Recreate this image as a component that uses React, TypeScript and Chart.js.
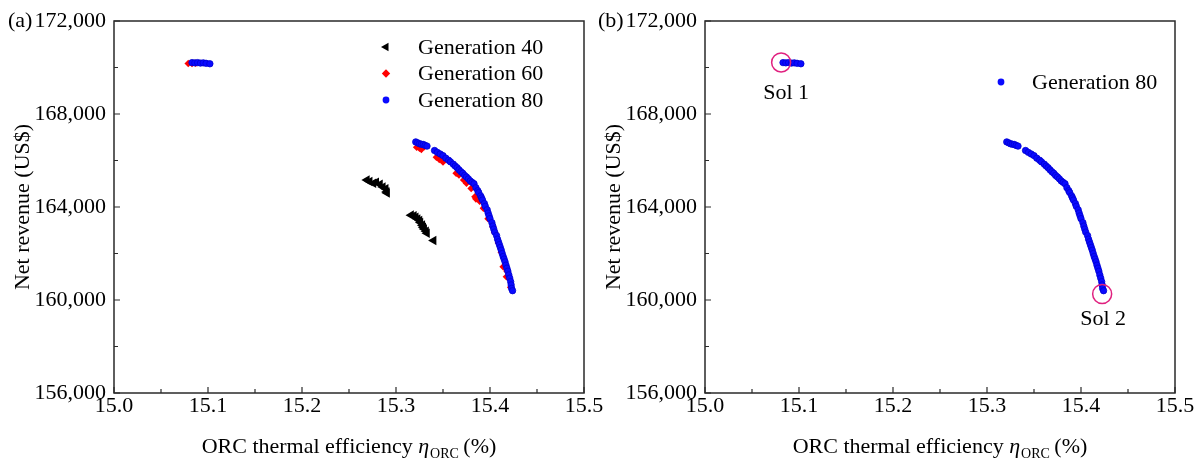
import React, { useEffect, useRef } from 'react';
import { Chart, registerables } from 'chart.js';

Chart.register(...registerables);

const FONT = "'Liberation Serif', 'Times New Roman', serif";

// ---- data ----
const gen40Eff = [15.269, 15.272, 15.276, 15.279, 15.283, 15.286, 15.289, 15.290, 15.2905,
  15.316, 15.319, 15.321, 15.323, 15.325, 15.326, 15.328, 15.329, 15.330, 15.332, 15.333, 15.340];
const gen40Rev = [165160, 165100, 165020, 165060, 164980, 164860, 164780, 164650, 164600,
  163650, 163620, 163560, 163480, 163420, 163330, 163220, 163130, 163050, 162960, 162870, 162560];

const gen60Eff = [15.079, 15.083, 15.087, 15.322, 15.325, 15.327, 15.330, 15.343, 15.346, 15.350,
  15.364, 15.367, 15.372, 15.375, 15.380, 15.384, 15.385, 15.389, 15.393, 15.398, 15.403, 15.405,
  15.409, 15.412, 15.414, 15.4175, 15.418, 15.422];
const gen60Rev = [170170, 170170, 170180, 166570, 166530, 166480, 166590, 166140, 166050, 165940,
  165450, 165380, 165160, 165020, 164800, 164440, 164350, 164250, 163950, 163500, 163150, 162900,
  162450, 162050, 161430, 161000, 161250, 160550];

const gen80Eff = [15.083, 15.086, 15.089, 15.092, 15.095, 15.098, 15.102,
  15.321, 15.323, 15.325, 15.327, 15.329, 15.331, 15.333, 15.341, 15.344, 15.347, 15.350, 15.353,
  15.356, 15.358, 15.361, 15.363, 15.365, 15.367, 15.369, 15.371, 15.373, 15.375, 15.377, 15.379,
  15.381, 15.383, 15.385, 15.387, 15.388, 15.390, 15.391, 15.392, 15.394, 15.395, 15.397, 15.398,
  15.399, 15.400, 15.402, 15.403, 15.404, 15.405, 15.407, 15.408, 15.409, 15.410, 15.411, 15.412,
  15.413, 15.414, 15.415, 15.416, 15.417, 15.418, 15.419, 15.420, 15.421, 15.422, 15.4225, 15.423, 15.424];
const gen80Rev = [170210, 170200, 170210, 170190, 170200, 170180, 170160,
  166800, 166760, 166720, 166700, 166690, 166650, 166620, 166430, 166350, 166280, 166210, 166100,
  166010, 165940, 165840, 165760, 165690, 165600, 165520, 165450, 165360, 165290, 165210, 165120,
  165060, 165000, 164830, 164700, 164620, 164480, 164390, 164300, 164150, 164030, 163880, 163740,
  163620, 163500, 163330, 163180, 163050, 162920, 162770, 162620, 162500, 162380, 162260, 162140,
  162000, 161870, 161760, 161640, 161500, 161370, 161240, 161080, 160940, 160790, 160650, 160500, 160400];

const solNames = ['Sol 1', 'Sol 2'];
const solEff = [15.081, 15.4225];
const solRev = [170220, 160260];

const xTicks = [15.0, 15.1, 15.2, 15.3, 15.4, 15.5];
const yTicks = [156000, 160000, 164000, 168000, 172000];
const xTitle = ['ORC thermal efficiency ', 'η', 'ORC', ' (%)'];
const yTitle = 'Net revenue (US$)';

const BLUE = '#0a0aff';
const RED = '#ff0000';
const BLACK = '#000000';
const SOL = '#e0207f';

const pts = (xs: number[], ys: number[]) => xs.map((x, i) => ({ x, y: ys[i] }));

function drawMarker(ctx: CanvasRenderingContext2D, kind: string, color: string, x: number, y: number) {
  ctx.save();
  ctx.fillStyle = color;
  ctx.beginPath();
  if (kind === 'triangle') {
    const r = 5;
    ctx.moveTo(x - r, y);
    ctx.lineTo(x + r * 0.5, y - r * 0.866);
    ctx.lineTo(x + r * 0.5, y + r * 0.866);
    ctx.closePath();
  } else if (kind === 'diamond') {
    const r = 4.2;
    ctx.moveTo(x, y - r);
    ctx.lineTo(x + r, y);
    ctx.lineTo(x, y + r);
    ctx.lineTo(x - r, y);
    ctx.closePath();
  } else {
    ctx.arc(x, y, 3.4, 0, Math.PI * 2);
  }
  ctx.fill();
  ctx.restore();
}

const framePlugin = {
  id: 'frame',
  afterDraw(chart: any) {
    const { ctx, chartArea, scales } = chart;
    const { left, right, top, bottom } = chartArea;
    const xs = scales.x;
    const ys = scales.y;
    ctx.save();
    ctx.strokeStyle = '#2a2a2a';
    ctx.lineWidth = 1.5;
    ctx.strokeRect(left, top, right - left, bottom - top);
    ctx.lineWidth = 1.2;
    ctx.beginPath();
    for (let i = 0; i < xTicks.length; i++) {
      const px = xs.getPixelForValue(xTicks[i]);
      ctx.moveTo(px, bottom);
      ctx.lineTo(px, bottom - 6);
      if (i < xTicks.length - 1) {
        const mx = xs.getPixelForValue((xTicks[i] + xTicks[i + 1]) / 2);
        ctx.moveTo(mx, bottom);
        ctx.lineTo(mx, bottom - 4);
      }
    }
    for (let i = 0; i < yTicks.length; i++) {
      const py = ys.getPixelForValue(yTicks[i]);
      ctx.moveTo(left, py);
      ctx.lineTo(left + 6, py);
      if (i < yTicks.length - 1) {
        const my = ys.getPixelForValue((yTicks[i] + yTicks[i + 1]) / 2);
        ctx.moveTo(left, my);
        ctx.lineTo(left + 4, my);
      }
    }
    ctx.stroke();
    ctx.restore();
  },
};

const textPlugin = {
  id: 'panelText',
  afterDraw(chart: any, _args: any, opts: any) {
    const { ctx, chartArea, scales } = chart;
    const { left, right, top, bottom } = chartArea;
    ctx.save();
    ctx.fillStyle = '#000';
    ctx.font = `22px ${FONT}`;
    // panel label
    ctx.textAlign = 'left';
    ctx.textBaseline = 'middle';
    ctx.fillText(opts.label, opts.labelX, top);

    // y title
    ctx.save();
    ctx.translate(left - 85, (top + bottom) / 2);
    ctx.rotate(-Math.PI / 2);
    ctx.textAlign = 'center';
    ctx.textBaseline = 'alphabetic';
    ctx.fillText(yTitle, 0, 0);
    ctx.restore();

    // x title with subscript
    const fMain = `22px ${FONT}`;
    const fIt = `italic 22px ${FONT}`;
    const fSub = `14px ${FONT}`;
    ctx.textAlign = 'left';
    ctx.textBaseline = 'alphabetic';
    ctx.font = fMain; const w1 = ctx.measureText(xTitle[0]).width;
    ctx.font = fIt; const w2 = ctx.measureText(xTitle[1]).width;
    ctx.font = fSub; const w3 = ctx.measureText(xTitle[2]).width;
    ctx.font = fMain; const w4 = ctx.measureText(xTitle[3]).width;
    const total = w1 + w2 + w3 + w4;
    let cx = (left + right) / 2 - total / 2;
    const by = 453;
    ctx.font = fMain; ctx.fillText(xTitle[0], cx, by); cx += w1;
    ctx.font = fIt; ctx.fillText(xTitle[1], cx, by); cx += w2 + 1;
    ctx.font = fSub; ctx.fillText(xTitle[2], cx, by + 5); cx += w3 - 1;
    ctx.font = fMain; ctx.fillText(xTitle[3], cx, by);

    // legend
    ctx.font = `22px ${FONT}`;
    ctx.textBaseline = 'middle';
    opts.legend.forEach((it: any, i: number) => {
      const lx = left + opts.legendX;
      const ly = top + opts.legendY + i * 26.5;
      drawMarker(ctx, it.kind, it.color, lx, ly);
      ctx.fillStyle = '#000';
      ctx.fillText(it.text, lx + opts.textGap, ly + 1);
    });

    // solution annotations
    if (opts.sols) {
      const xs = scales.x;
      const ys = scales.y;
      for (let i = 0; i < solNames.length; i++) {
        const px = xs.getPixelForValue(solEff[i]);
        const py = ys.getPixelForValue(solRev[i]);
        ctx.strokeStyle = SOL;
        ctx.lineWidth = 1.5;
        ctx.beginPath();
        ctx.arc(px, py, 9.5, 0, Math.PI * 2);
        ctx.stroke();
        ctx.fillStyle = '#000';
        ctx.textAlign = 'center';
        ctx.fillText(solNames[i], px + (i === 0 ? 5 : 1), py + (i === 0 ? 31 : 25));
      }
    }
    ctx.restore();
  },
};

function makeOptions(yWidth: number, rightPad: number, panel: any) {
  return {
    responsive: false,
    animation: false as const,
    devicePixelRatio: 1,
    events: [],
    layout: { padding: { left: 0, right: rightPad, top: 21, bottom: 0 } },
    plugins: {
      legend: { display: false },
      tooltip: { enabled: false },
      panelText: panel,
    },
    scales: {
      x: {
        type: 'linear' as const,
        min: 15.0,
        max: 15.5,
        afterBuildTicks: (s: any) => { s.ticks = xTicks.map((v) => ({ value: v })); },
        ticks: {
          font: { family: FONT, size: 22 },
          color: '#000',
          padding: 0,
          maxRotation: 0,
          autoSkip: false,
          callback: (v: any) => Number(v).toFixed(1),
        },
        grid: { display: false, drawTicks: false },
        border: { display: false },
        afterFit: (s: any) => { s.height = 66; s.paddingLeft = 0; s.paddingRight = 0; },
      },
      y: {
        type: 'linear' as const,
        min: 156000,
        max: 172000,
        afterBuildTicks: (s: any) => { s.ticks = yTicks.map((v) => ({ value: v })); },
        ticks: {
          font: { family: FONT, size: 22 },
          color: '#000',
          padding: 8,
          autoSkip: false,
          callback: (v: any) => Number(v).toLocaleString('en-US'),
        },
        grid: { display: false, drawTicks: false },
        border: { display: false },
        afterFit: (s: any) => { s.width = yWidth; s.paddingTop = 0; s.paddingBottom = 0; },
      },
    },
  };
}

export default function App() {
  const refA = useRef<HTMLCanvasElement | null>(null);
  const refB = useRef<HTMLCanvasElement | null>(null);

  useEffect(() => {
    document.body.style.margin = '0';
    const blueSet = (order: number) => ({
      label: 'Generation 80',
      data: pts(gen80Eff, gen80Rev),
      pointStyle: 'circle',
      pointRadius: 3.2,
      pointBackgroundColor: BLUE,
      pointBorderColor: '#0000d0',
      pointBorderWidth: 0.8,
      order,
    });
    const chartA = new Chart(refA.current as HTMLCanvasElement, {
      type: 'scatter',
      data: {
        datasets: [
          blueSet(1),
          {
            label: 'Generation 60',
            data: pts(gen60Eff, gen60Rev),
            pointStyle: 'rectRot',
            pointRadius: 3.8,
            pointBackgroundColor: RED,
            pointBorderColor: RED,
            pointBorderWidth: 0,
            order: 2,
          },
          {
            label: 'Generation 40',
            data: pts(gen40Eff, gen40Rev),
            pointStyle: 'triangle',
            pointRotation: -90,
            pointRadius: 5.5,
            pointBackgroundColor: BLACK,
            pointBorderColor: BLACK,
            pointBorderWidth: 0,
            order: 3,
          },
        ],
      },
      options: makeOptions(114, 56, {
        label: '(a)',
        labelX: 8,
        legendX: 272,
        legendY: 26,
        textGap: 32,
        legend: [
          { kind: 'triangle', color: BLACK, text: 'Generation 40' },
          { kind: 'diamond', color: RED, text: 'Generation 60' },
          { kind: 'circle', color: BLUE, text: 'Generation 80' },
        ],
        sols: false,
      }) as any,
      plugins: [framePlugin, textPlugin],
    });
    const chartB = new Chart(refB.current as HTMLCanvasElement, {
      type: 'scatter',
      data: { datasets: [blueSet(1)] },
      options: makeOptions(125, 26, {
        label: '(b)',
        labelX: 18,
        legendX: 296,
        legendY: 61,
        textGap: 31,
        legend: [{ kind: 'circle', color: BLUE, text: 'Generation 80' }],
        sols: true,
      }) as any,
      plugins: [framePlugin, textPlugin],
    });
    return () => {
      chartA.destroy();
      chartB.destroy();
    };
  }, []);

  return (
    <div style={{ position: 'fixed', left: 0, top: 0, width: 1201, height: 459, background: '#fff', overflow: 'hidden' }}>
      <canvas ref={refA} width={640} height={459} style={{ position: 'absolute', left: 0, top: 0 }} />
      <canvas ref={refB} width={621} height={459} style={{ position: 'absolute', left: 580, top: 0 }} />
    </div>
  );
}
